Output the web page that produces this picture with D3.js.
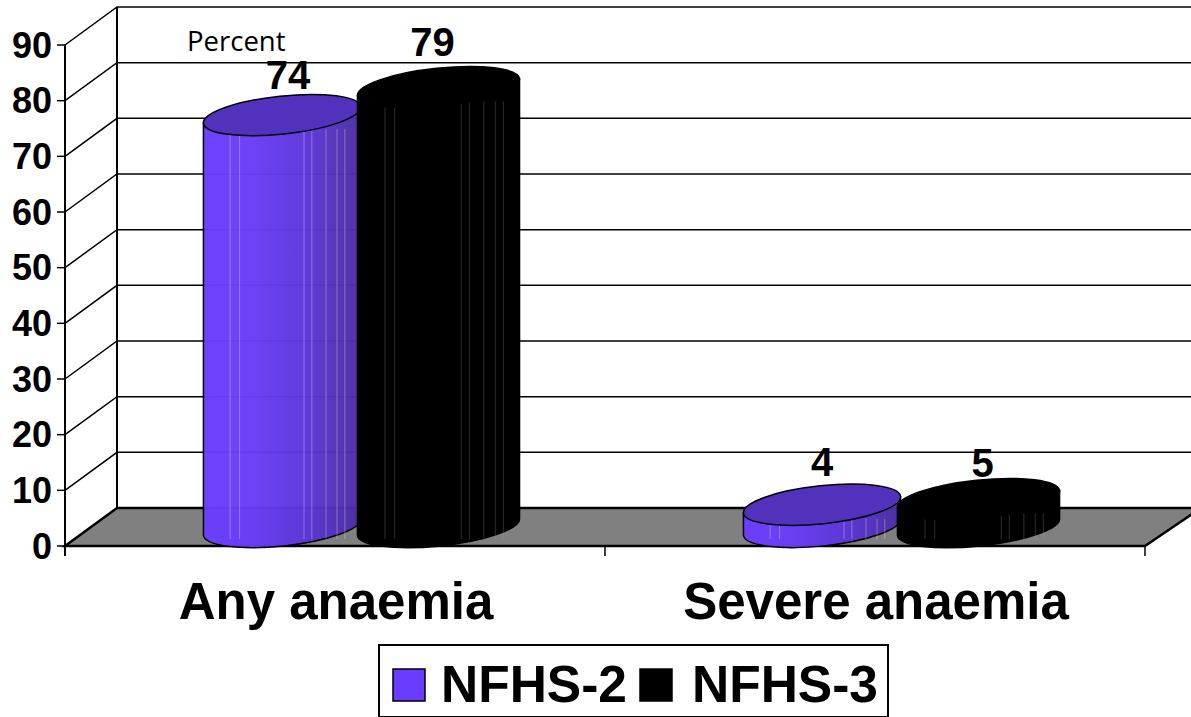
<!DOCTYPE html>
<html><head><meta charset="utf-8">
<script src="https://cdn.jsdelivr.net/npm/d3@7/dist/d3.min.js"></script>
<style>html,body{margin:0;padding:0;background:#fff;overflow:hidden}svg{display:block}text{font-family:"Liberation Sans",Arial,sans-serif;font-weight:bold;fill:#000}</style>
</head><body><svg id="c" width="1191" height="717"></svg>
<script>
const categories = ["Any anaemia", "Severe anaemia"];
const seriesNames = ["NFHS-2", "NFHS-3"];
const nfhs2 = [74, 4];
const nfhs3 = [79, 5];
const tickValues = [0,10,20,30,40,50,60,70,80,90];

const svg = d3.select("#c");
const W = 1191;
const left = 65, right = 1145, y0 = 546, y90 = 45;
const depthX = 52, depthY = -38;
const x = d3.scaleBand().domain(categories).range([left, right]);
const y = d3.scaleLinear().domain([0, 90]).range([y0, y90]);
const tops = y(90) + depthY;

const defs = svg.append("defs");
const colors = {
  "NFHS-2": {stops:["#6a3cff","#6a3cf8","#5c36d8","#4a2ea0"], top:"#5232bd", line:"#fff"},
  "NFHS-3": {stops:["#000","#000","#000","#000"], top:"#000", line:"#999"}
};
seriesNames.forEach((s,i)=>{
  const g = defs.append("linearGradient").attr("id","g"+i);
  colors[s].stops.forEach((c,j)=>g.append("stop").attr("offset",[0,.3,.65,1][j]).attr("stop-color",c));
});

// back wall and floor
svg.append("path").attr("fill","#808080").attr("stroke","#000").attr("stroke-width",2.5)
  .attr("d",`M${left},${y0} L${left+depthX},${y0+depthY} L${W+10},${y0+depthY} L${right},${y0} Z`);
const grid = svg.append("g");
tickValues.forEach(v=>{
  if(v>0) grid.append("path").attr("fill","none").attr("stroke","#000").attr("stroke-width",1.5)
    .attr("d",`M${left},${y(v)} L${left+depthX},${y(v)+depthY} L${W},${y(v)+depthY}`);
});
svg.append("line").attr("x1",left+depthX).attr("x2",left+depthX).attr("y1",tops).attr("y2",y0+depthY).attr("stroke","#000").attr("stroke-width",2);
svg.append("line").attr("x1",left).attr("x2",left).attr("y1",y(90)).attr("y2",y0+10).attr("stroke","#000").attr("stroke-width",2);
svg.selectAll(".yt").data(tickValues).join("line").attr("x1",left-8).attr("x2",left).attr("y1",d=>y(d)).attr("y2",d=>y(d)).attr("stroke","#000").attr("stroke-width",1.5);
svg.selectAll(".yl").data(tickValues).join("text").attr("x",52).attr("y",d=>y(d)+12.5).attr("text-anchor","end").attr("font-size",36).text(d=>d);
[left, left+x.bandwidth(), right].forEach(px=>svg.append("line").attr("x1",px).attr("x2",px).attr("y1",y0).attr("y2",y0+10).attr("stroke","#000").attr("stroke-width",1.5));

// cylinders
const rxs = [79, 81.5], ry = 19, rot = -6;
const rad = rot*Math.PI/180;
const baseY = y0 - 19;
const yH = v => y(v) - y0 + baseY;
const facets = [.17,.23,.64,.69,.78,.85,.9];
const seriesOffset = d3.scalePoint().domain(seriesNames).range([-77,79.5]);
const nudges = [[[6,2],[-6,-3]],[[0,-1],[4,6]]];

function cylinder(cat,ci,s,si,val){
  const rx = rxs[si], ex = rx*Math.cos(rad), ey = rx*Math.sin(rad);
  const cx = x(cat)+x.bandwidth()/2+24+seriesOffset(s), t = yH(val), c = colors[s];
  const g = svg.append("g");
  g.append("path").attr("fill",`url(#g${si})`).attr("fill-opacity",si===0?.97:1).attr("stroke","#000").attr("stroke-width",1.5)
    .attr("d",`M${cx-ex},${t-ey} L${cx-ex},${baseY-ey} A${rx},${ry} ${rot} 0 0 ${cx+ex},${baseY+ey} L${cx+ex},${t+ey} Z`);
  facets.forEach(f=>{
    const fx = cx-ex+2*ex*f;
    g.append("line").attr("x1",fx).attr("x2",fx).attr("y1",t+14).attr("y2",baseY+12)
      .attr("stroke",c.line).attr("stroke-opacity",.3).attr("stroke-width",1);
  });
  g.append("ellipse").attr("cx",cx).attr("cy",t).attr("rx",rx).attr("ry",ry)
    .attr("transform",`rotate(${rot} ${cx} ${t})`).attr("fill",c.top).attr("stroke","#000").attr("stroke-width",1.5);
}
const seriesValues = [nfhs2, nfhs3];
categories.forEach((cat,ci)=>{
  seriesNames.forEach((s,si)=>cylinder(cat,ci,s,si,seriesValues[si][ci]));
  seriesNames.forEach((s,si)=>{
    const n = nudges[ci][si], v = seriesValues[si][ci];
    svg.append("text").attr("x",x(cat)+x.bandwidth()/2+24+seriesOffset(s)+n[0]).attr("y",yH(v)-28+n[1])
      .attr("text-anchor","middle").attr("font-size",40).text(v);
  });
});

// category labels
svg.selectAll(".cat").data(categories).join("text").attr("x",d=>x(d)+x.bandwidth()/2+1).attr("y",619)
  .attr("text-anchor","middle").attr("font-size",51).text(d=>d);

svg.append("text").attr("x",187).attr("y",51).attr("font-size",27.5).style("font-family","'Open Sans','Noto Sans',sans-serif").style("font-weight","normal").text("Percent");

// legend
svg.append("rect").attr("x",379).attr("y",645).attr("width",509).attr("height",72).attr("fill","#fff").attr("stroke","#000").attr("stroke-width",2);
const legX = [393,640], legText = [441,692];
seriesNames.forEach((s,i)=>{
  svg.append("rect").attr("x",legX[i]).attr("y",669).attr("width",32).attr("height",32)
    .attr("fill",i===0?"#6a3cff":"#000").attr("stroke","#000").attr("stroke-width",1.5);
  svg.append("text").attr("x",legText[i]).attr("y",702).attr("font-size",51.5).text(s);
});
</script></body></html>
